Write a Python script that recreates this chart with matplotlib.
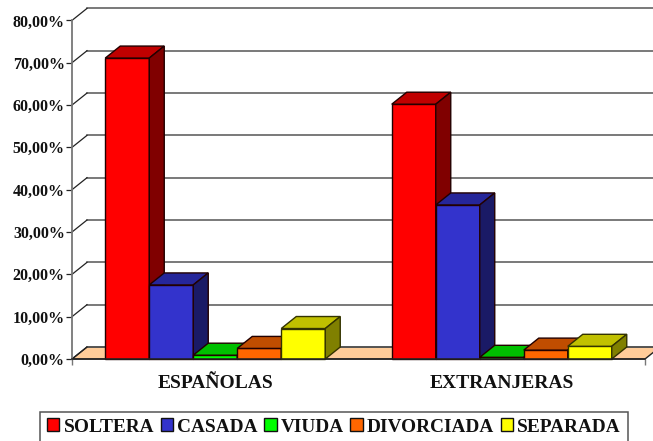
import matplotlib
matplotlib.use("Agg")
import matplotlib.pyplot as plt
import numpy as np
from matplotlib.patches import Patch

categories = ["ESPAÑOLAS", "EXTRANJERAS"]
series = ["SOLTERA", "CASADA", "VIUDA", "DIVORCIADA", "SEPARADA"]
values = {
    "SOLTERA": [71.1, 60.2],
    "CASADA": [17.5, 36.4],
    "VIUDA": [0.9, 0.4],
    "DIVORCIADA": [2.5, 2.1],
    "SEPARADA": [7.2, 3.0],
}
front_colors = ["#FF0000", "#3333CC", "#00FF00", "#FF6600", "#FFFF00"]
top_colors = ["#C00000", "#26269A", "#00C000", "#C04D00", "#C0C000"]
side_colors = ["#800000", "#1A1A66", "#008000", "#803300", "#808000"]
yticks = [0, 10, 20, 30, 40, 50, 60, 70, 80]
ytick_labels = ["0,00%", "10,00%", "20,00%", "30,00%", "40,00%", "50,00%", "60,00%", "70,00%", "80,00%"]

W, H = 653, 441
plt.rcParams["font.family"] = ["Liberation Serif", "DejaVu Serif"]
plt.rcParams["font.weight"] = "bold"
text_color = "#111111"

fig = plt.figure(figsize=(W / 100, H / 100), dpi=100)
# front plane of the fake 3d box, in pixels
left, right, top, bottom = 72.0, 645.0, 20.4, 359.0
ax = fig.add_axes([left / W, 1 - bottom / H, (right - left) / W, (bottom - top) / H])
ax.set_xlim(0, 2)
ax.set_ylim(0, 80)
ax.patch.set_visible(False)

dx = 15 * 2 / (right - left)
dy = 12 * 80 / (bottom - top)
bar_w = 44 * 2 / (right - left)

# floor
ax.fill([0, dx, 2 + dx, 2], [0, dy, dy, 0], fc="#FFCC99", ec="#222222", lw=1, clip_on=False, zorder=1)

# back wall lines and the connectors to the left axis
for y in yticks:
    ax.plot([dx, 2 + dx], [y + dy, y + dy], color="#555555", lw=1.1, clip_on=False, zorder=1.5)
    ax.plot([0, dx], [y, y + dy], color="#222222", lw=0.9, clip_on=False, zorder=1.5)

for g in range(len(categories)):
    x0 = g + 0.5 - bar_w * len(series) / 2
    for i, name in enumerate(series):
        v = values[name][g]
        x = x0 + i * bar_w
        z = 3 + g * 10 + i
        edge = "#333300" if name == "SEPARADA" else "#220000"
        ax.bar(x, v, bar_w, align="edge", color=front_colors[i], edgecolor=edge, lw=1, clip_on=False, zorder=z)
        ax.fill([x, x + dx, x + bar_w + dx, x + bar_w], [v, v + dy, v + dy, v],
                fc=top_colors[i], ec=edge, lw=1, clip_on=False, zorder=z)
        ax.fill([x + bar_w, x + bar_w + dx, x + bar_w + dx, x + bar_w], [0, dy, v + dy, v],
                fc=side_colors[i], ec=edge, lw=1, clip_on=False, zorder=z)

for s in ["top", "right"]:
    ax.spines[s].set_visible(False)
ax.spines["left"].set_color("#777777")
ax.spines["left"].set_linewidth(1.3)
ax.spines["bottom"].set_color("#222222")
ax.spines["bottom"].set_linewidth(1.1)
ax.spines["bottom"].set_zorder(40)

ax.set_yticks(yticks)
ax.set_yticklabels(ytick_labels, fontsize=11.5, color=text_color)
ax.tick_params(axis="y", length=4, width=0.9, color="#222222", pad=1.2)
ax.set_xticks([0, 2])
ax.set_xticklabels(["", ""])
ax.tick_params(axis="x", length=4, width=1, color="#777777")
for g, c in enumerate(categories):
    ax.text(g + 0.5, -3.8, c, ha="center", va="top", fontsize=14, color=text_color)

handles = [Patch(fc=front_colors[i], ec="#111111", lw=1, label=series[i]) for i in range(len(series))]
leg = fig.legend(handles=handles, ncol=5, loc="upper left", bbox_to_anchor=(40 / W, 1 - 411.5 / H),
                 bbox_transform=fig.transFigure, fontsize=13.85, fancybox=False, framealpha=1,
                 edgecolor="#555555", borderaxespad=0, borderpad=0.36, handlelength=0.65, handleheight=0.65,
                 handletextpad=0.22, columnspacing=0.33)
leg.get_frame().set_linewidth(1.1)
for t in leg.get_texts():
    t.set_color(text_color)

fig.savefig("out.png", dpi=100)
